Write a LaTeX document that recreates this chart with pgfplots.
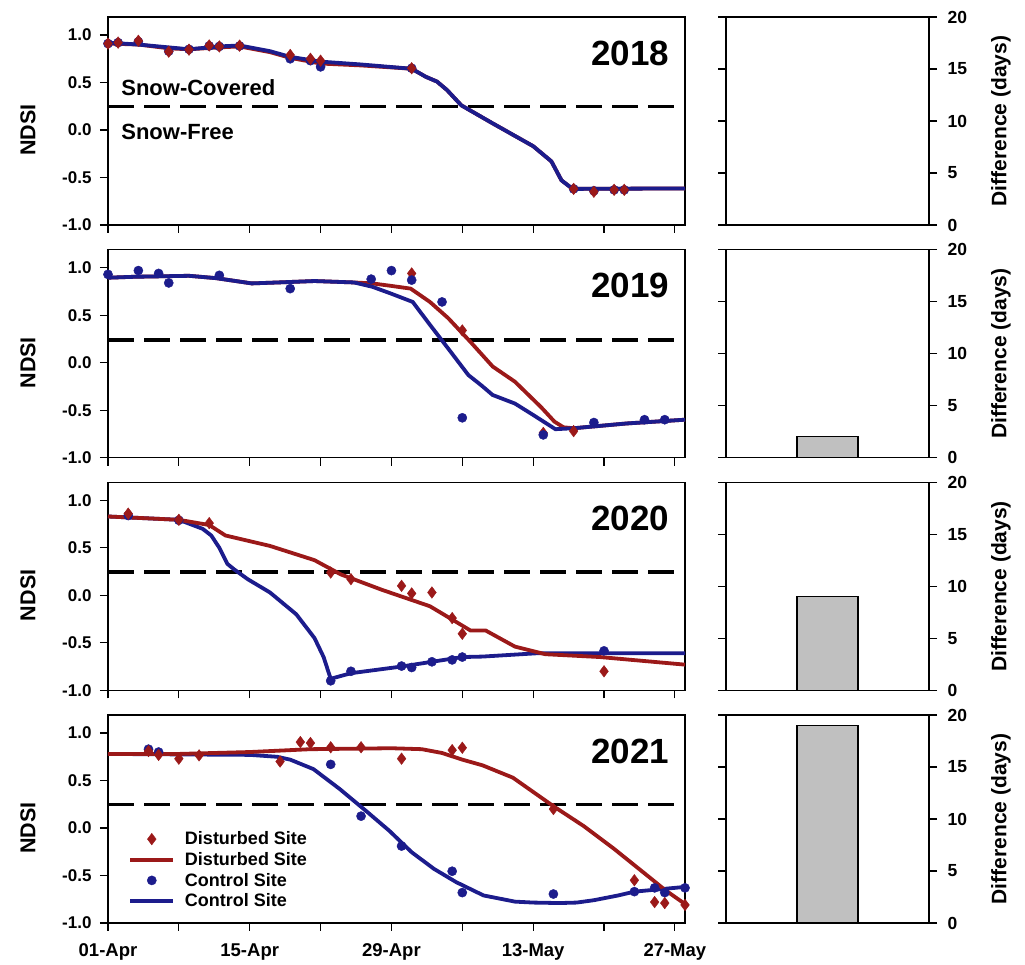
\documentclass[border=0pt]{standalone}
\usepackage{fontspec}
\setmainfont{Liberation Sans}
\usepackage{pgfplots}
\pgfplotsset{compat=1.18}
\definecolor{dred}{RGB}{155,25,25}
\definecolor{dblue}{RGB}{28,28,140}
\definecolor{bargray}{RGB}{192,192,192}
\tikzset{
 yearlabel/.style={anchor=east, font=\fontsize{35}{35}\selectfont\bfseries},
 snowlabel/.style={anchor=west, font=\fontsize{22}{22}\selectfont\bfseries},
}
\pgfplotsset{
 leftpanel/.style={
  scale only axis, width=577pt, height=208pt, anchor=south west,
  xmin=0, xmax=57, ymin=-1, ymax=1.19,
  axis line style={line width=1.2pt},
  tick style={line width=1.2pt, black}, major tick length=8pt,
  tick align=outside, xtick pos=bottom, ytick pos=left,
  xtick={0,7,...,56}, xticklabels={},
  ytick={-1,-0.5,0,0.5,1}, yticklabels={-1.0,-0.5,0.0,0.5,1.0},
  yticklabel style={font=\fontsize{17}{17}\selectfont\bfseries, xshift=-5pt},
  xticklabel style={font=\fontsize{18.5}{18.5}\selectfont\bfseries, yshift=-9pt},
  ylabel={NDSI},
  every axis y label/.style={at={(rel axis cs:0,0.4566)}, xshift=-80pt, rotate=90, anchor=center, font=\fontsize{21.5}{21.5}\selectfont\bfseries},
  clip=false,
 },
 barpanel/.style={
  scale only axis, width=203pt, height=208pt, anchor=south west,
  xmin=0, xmax=1, ymin=0, ymax=20,
  axis line style={line width=1.2pt},
  tick style={line width=1.2pt, black}, major tick length=8pt,
  tick align=outside, xtick=\empty,
  ytick={0,5,10,15,20}, yticklabels={0,5,10,15,20},
  yticklabel pos=right, ytick pos=both,
  yticklabel style={font=\fontsize{17.5}{17.5}\selectfont\bfseries, xshift=7pt},
  ylabel={Difference (days)},
  every axis y label/.style={at={(rel axis cs:1,0.5)}, xshift=72pt, rotate=90, anchor=center, font=\fontsize{21}{21}\selectfont\bfseries},
  clip=false,
 },
 thresh/.style={black, line width=3.5pt, dash pattern=on 26pt off 10pt, forget plot},
 redline/.style={dred, line width=3.8pt, forget plot},
 blueline/.style={dblue, line width=3.8pt, forget plot},
 redpts/.style={only marks, mark=diamond*, mark size=5.8pt, dred, forget plot},
 bluepts/.style={only marks, mark=*, mark size=4.6pt, dblue, forget plot},
 thebar/.style={ybar, bar width=61pt, fill=bargray, draw=black, line width=1.2pt},
}
\begin{document}
\begin{tikzpicture}
\useasboundingbox (0pt,0pt) rectangle (1025pt,965pt);
% ---------------- 2018 ----------------
\begin{axis}[leftpanel, at={(108pt,740pt)}]
\addplot[thresh] coordinates {(0,0.25) (57,0.25)};
\addplot[redline] coordinates {(0,0.91) (3,0.90) (6,0.86) (8,0.85) (11,0.87) (13,0.88) (16,0.82) (18,0.76) (21,0.70) (25,0.68) (30,0.645) (31.4,0.56) (32.5,0.51) (33.5,0.42) (34.9,0.26) (38,0.07) (42,-0.17) (43.8,-0.33) (44.8,-0.53) (45.9,-0.62) (57,-0.615)};
\addplot[blueline] coordinates {(0,0.92) (3,0.90) (6,0.87) (8,0.85) (11,0.88) (13,0.89) (16,0.83) (18,0.77) (21,0.72) (25,0.69) (30,0.645) (31.4,0.56) (32.5,0.51) (33.5,0.42) (34.9,0.26) (38,0.07) (42,-0.17) (43.8,-0.33) (44.8,-0.53) (45.9,-0.62) (57,-0.615)};
\addplot[bluepts] coordinates {(0,0.91) (1,0.92) (3,0.93) (6,0.83) (8,0.85) (10,0.885) (11,0.88) (13,0.885) (18,0.75) (20,0.73) (21,0.665) (30,0.65) (46,-0.62) (48,-0.64) (50,-0.63) (51,-0.63)};
\addplot[redpts] coordinates {(0,0.91) (1,0.92) (3,0.94) (6,0.825) (8,0.846) (10,0.89) (11,0.88) (13,0.888) (18,0.79) (20,0.75) (21,0.73) (30,0.65) (46,-0.62) (48,-0.65) (50,-0.63) (51,-0.63)};
\node[yearlabel] at (rel axis cs:0.979,0.827) {2018};
\node[snowlabel] at (rel axis cs:0.017,0.659) {Snow-Covered};
\node[snowlabel] at (rel axis cs:0.017,0.447) {Snow-Free};
\end{axis}
\begin{axis}[barpanel, at={(726pt,740pt)}]
\end{axis}
% ---------------- 2019 ----------------
\begin{axis}[leftpanel, at={(108pt,507.3pt)}]
\addplot[thresh] coordinates {(0,0.24) (57,0.24)};
\addplot[redline] coordinates {(0,0.895) (2.7,0.905) (8,0.915) (10.7,0.89) (14.2,0.835) (16.8,0.845) (20.4,0.86) (24.3,0.845) (26.1,0.835) (27.9,0.81) (29.9,0.78) (31.8,0.64) (33.6,0.47) (35.8,0.22) (38,-0.04) (40.2,-0.20) (42.8,-0.47) (44.1,-0.62) (45,-0.68) (46,-0.69) (51.2,-0.64) (57,-0.60)};
\addplot[blueline] coordinates {(0,0.895) (2.7,0.905) (8,0.915) (10.7,0.89) (14.2,0.835) (16.8,0.845) (20.4,0.86) (24.3,0.845) (26.1,0.80) (27.9,0.73) (30.1,0.64) (31.8,0.40) (33.6,0.15) (35.6,-0.13) (36.9,-0.24) (38,-0.34) (40.2,-0.43) (42,-0.55) (44.2,-0.70) (46,-0.69) (51.2,-0.64) (57,-0.60)};
\addplot[redpts] coordinates {(30,0.94) (35,0.34) (43,-0.74) (46,-0.72)};
\addplot[bluepts] coordinates {(0,0.93) (3,0.97) (5,0.94) (6,0.84) (11,0.92) (18,0.78) (26,0.88) (28,0.97) (30,0.87) (33,0.64) (35,-0.58) (43,-0.76) (48,-0.63) (53,-0.60) (55,-0.60)};
\node[yearlabel] at (rel axis cs:0.979,0.827) {2019};
\end{axis}
\begin{axis}[barpanel, at={(726pt,507.3pt)}]
\addplot[thebar] coordinates {(0.5,2)};
\end{axis}
% ---------------- 2020 ----------------
\begin{axis}[leftpanel, at={(108pt,274.7pt)}]
\addplot[thresh] coordinates {(0,0.245) (57,0.245)};
\addplot[blueline] coordinates {(0,0.83) (7,0.795) (9.35,0.70) (10.2,0.63) (11,0.50) (11.8,0.33) (12.5,0.27) (13.8,0.17) (16,0.03) (18.6,-0.20) (20.4,-0.45) (21.3,-0.65) (22,-0.88) (22.3,-0.87) (24,-0.82) (29,-0.75) (32,-0.70) (35,-0.65) (37,-0.645) (42.4,-0.61) (57,-0.61)};
\addplot[redline] coordinates {(0,0.83) (7,0.795) (10,0.74) (11.6,0.63) (16,0.52) (20.4,0.37) (23,0.22) (27,0.06) (31.8,-0.115) (34,-0.255) (35.8,-0.37) (37.3,-0.37) (40.2,-0.54) (43.2,-0.62) (48.6,-0.65) (57,-0.73)};
\addplot[bluepts] coordinates {(2,0.84) (7,0.79) (22,-0.90) (24,-0.80) (29,-0.745) (30,-0.76) (32,-0.70) (34,-0.68) (35,-0.65) (49,-0.585)};
\addplot[redpts] coordinates {(2,0.86) (7,0.795) (10,0.76) (22,0.24) (24,0.17) (29,0.10) (30,0.02) (32,0.03) (34,-0.24) (35,-0.405) (49,-0.80)};
\node[yearlabel] at (rel axis cs:0.979,0.827) {2020};
\end{axis}
\begin{axis}[barpanel, at={(726pt,274.7pt)}]
\addplot[thebar] coordinates {(0.5,9)};
\end{axis}
% ---------------- 2021 ----------------
\begin{axis}[leftpanel, at={(108pt,42pt)},
  xticklabels={01-Apr,,15-Apr,,29-Apr,,13-May,,27-May},
  legend style={draw=none, fill=none, at={(0.035,0.443)}, anchor=north west,
    font=\fontsize{18}{18}\selectfont\bfseries, row sep=4.5pt, inner sep=0pt,
    nodes={inner sep=0.8pt}, column sep=9pt, cells={anchor=west}},
  legend image code/.code={\draw[mark repeat=2,mark phase=2,#1] plot coordinates {(0pt,0pt) (21.5pt,0pt) (43pt,0pt)};}]
\addlegendimage{only marks, mark=diamond*, mark size=5.8pt, dred}
\addlegendentry{Disturbed Site}
\addlegendimage{dred, line width=3.8pt}
\addlegendentry{Disturbed Site}
\addlegendimage{only marks, mark=*, mark size=4.6pt, dblue}
\addlegendentry{Control Site}
\addlegendimage{dblue, line width=3.8pt}
\addlegendentry{Control Site}
\addplot[thresh] coordinates {(0,0.25) (57,0.25)};
\addplot[blueline] coordinates {(0,0.78) (14,0.77) (16.7,0.75) (18,0.72) (20.3,0.62) (22.9,0.41) (25.6,0.17) (27.8,-0.03) (30,-0.255) (32.2,-0.43) (34.4,-0.57) (37.1,-0.71) (40.2,-0.775) (42,-0.785) (44.6,-0.79) (46.3,-0.785) (48,-0.76) (50.4,-0.71) (52,-0.67) (54,-0.65) (57,-0.62)};
\addplot[redline] coordinates {(0,0.78) (7,0.78) (14,0.80) (20,0.83) (28,0.84) (31,0.83) (33,0.79) (35,0.72) (37,0.66) (40,0.53) (42,0.38) (44,0.23) (47,0.02) (50,-0.22) (53.5,-0.52) (55,-0.65) (57,-0.80)};
\addplot[bluepts] coordinates {(4,0.83) (5,0.80) (22,0.67) (25,0.125) (29,-0.19) (34,-0.455) (35,-0.68) (44,-0.695) (52,-0.67) (54,-0.63) (55,-0.68) (57,-0.63)};
\addplot[redpts] coordinates {(4,0.81) (5,0.77) (7,0.73) (9,0.765) (17,0.70) (19,0.905) (20,0.895) (22,0.85) (25,0.85) (29,0.73) (34,0.82) (35,0.845) (44,0.20) (52,-0.55) (54,-0.78) (55,-0.79) (57,-0.81)};
\node[yearlabel] at (rel axis cs:0.979,0.827) {2021};
\end{axis}
\begin{axis}[barpanel, at={(726pt,42pt)}]
\addplot[thebar] coordinates {(0.5,19)};
\end{axis}
\end{tikzpicture}
\end{document}
